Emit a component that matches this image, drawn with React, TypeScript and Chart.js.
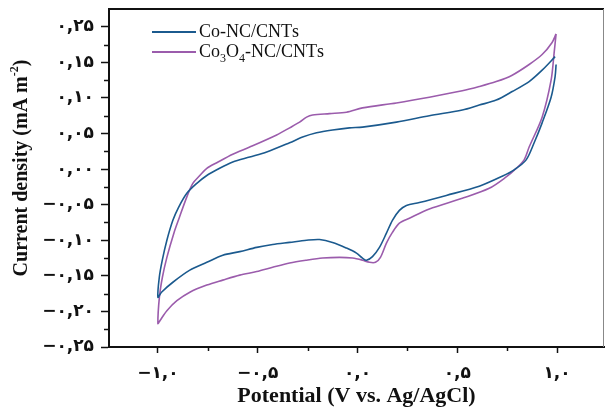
import React, { useEffect, useRef } from "react";
import { Chart, registerables } from "chart.js";

Chart.register(...registerables);

// ---- Data ----
const seriesNames = ["Co-NC/CNTs", "Co3O4-NC/CNTs"];
const seriesColors = ["#1b5a8e", "#9b5cac"];

const coPotential = [
  0.99, 0.925, 0.86, 0.775, 0.695, 0.61, 0.525, 0.36, 0.195, 0.025, -0.04, -0.125, -0.205, -0.275, -0.34,
  -0.455, -0.54, -0.625, -0.705, -0.755, -0.805, -0.855, -0.897, -0.925, -0.955, -0.978, -0.993, -1.0,
  -0.982, -0.925, -0.84, -0.755, -0.675, -0.59, -0.505, -0.425, -0.34, -0.255, -0.19, -0.125, -0.055,
  -0.005, 0.025, 0.045, 0.075, 0.11, 0.145, 0.175, 0.21, 0.245, 0.31, 0.445, 0.61, 0.725, 0.785, 0.845,
  0.885, 0.925, 0.97, 0.99, 0.995,
];
const coCurrent = [
  0.158, 0.139, 0.123, 0.109, 0.097, 0.09, 0.083, 0.075, 0.066, 0.059, 0.058, 0.055, 0.051, 0.045, 0.037,
  0.024, 0.017, 0.01, -0.001, -0.009, -0.02, -0.034, -0.054, -0.072, -0.1, -0.128, -0.152, -0.18,
  -0.173, -0.159, -0.142, -0.131, -0.121, -0.116, -0.11, -0.106, -0.103, -0.1, -0.099, -0.103, -0.111,
  -0.118, -0.125, -0.128, -0.123, -0.11, -0.09, -0.072, -0.058, -0.051, -0.047, -0.037, -0.024, -0.01,
  -0.001, 0.013, 0.037, 0.065, 0.101, 0.13, 0.147,
];

const co3o4Potential = [
  0.995, 0.975, 0.925, 0.86, 0.775, 0.695, 0.61, 0.525, 0.36, 0.195, 0.025, -0.055, -0.14, -0.225, -0.255,
  -0.29, -0.34, -0.405, -0.54, -0.625, -0.705, -0.755, -0.79, -0.825, -0.855, -0.8925, -0.92, -0.955,
  -0.9775, -0.9925, -1.0, -0.99, -0.955, -0.905, -0.84, -0.755, -0.675, -0.59, -0.505, -0.425, -0.34, -0.255,
  -0.175, -0.09, -0.025, 0.025, 0.06, 0.09, 0.115, 0.145, 0.175, 0.21, 0.26, 0.36, 0.525, 0.66, 0.745,
  0.795, 0.835, 0.86, 0.925, 0.97, 0.985, 0.995,
];
const co3o4Current = [
  0.19, 0.178, 0.161, 0.147, 0.132, 0.123, 0.116, 0.11, 0.101, 0.093, 0.086, 0.08, 0.078, 0.076, 0.073,
  0.066, 0.058, 0.048, 0.031, 0.021, 0.009, 0.001, -0.009, -0.02, -0.039, -0.068, -0.09, -0.124,
  -0.152, -0.18, -0.217, -0.213, -0.199, -0.185, -0.173, -0.163, -0.156, -0.149, -0.144, -0.138, -0.132,
  -0.128, -0.125, -0.124, -0.125, -0.128, -0.131, -0.131, -0.124, -0.104, -0.089, -0.076, -0.069, -0.056,
  -0.041, -0.027, -0.011, 0.001, 0.013, 0.031, 0.073, 0.125, 0.163, 0.19,
];

const xTickValues = [-1.0, -0.5, 0.0, 0.5, 1.0];
const xTickLabels = ["−۱,۰", "−۰,۵", "۰,۰", "۰,۵", "۱,۰"];
const yTickValues = [-0.25, -0.2, -0.15, -0.1, -0.05, 0.0, 0.05, 0.1, 0.15, 0.2];
const yTickLabels = ["−۰,۲۵", "−۰,۲۰", "−۰,۱۵", "−۰,۱۰", "−۰,۰۵", "۰,۰۰", "۰,۰۵", "۰,۱۰", "۰,۱۵", "۰,۲۵"];

const xTitle = "Potential (V vs. Ag/AgCl)";
const yTitleMain = "Current density (mA m";
const yTitleSup = "-2";
const yTitleEnd = ")";

const SERIF = "'Liberation Serif', 'Times New Roman', serif";
const TICKFONT = "'DejaVu Sans', sans-serif";

function toPoints(xs: number[], ys: number[]) {
  return xs.map((x, i) => ({ x, y: ys[i] }));
}

function drawRich(ctx: CanvasRenderingContext2D, text: string, x: number, y: number, size: number) {
  // digits directly after a letter are drawn as subscripts
  let cx = x;
  for (let i = 0; i < text.length; i++) {
    const ch = text[i];
    const isSub = /[0-9]/.test(ch) && i > 0 && /[A-Za-z]/.test(text[i - 1]);
    if (isSub) {
      ctx.font = `${Math.round(size * 0.65)}px ${SERIF}`;
      ctx.fillText(ch, cx, y + size * 0.25);
    } else {
      ctx.font = `${size}px ${SERIF}`;
      ctx.fillText(ch, cx, y);
    }
    cx += ctx.measureText(ch).width;
  }
}

const decorPlugin = {
  id: "decor",
  afterDraw(chart: any) {
    const { ctx, chartArea: a, scales } = chart;
    const xs = scales.x;
    const ys = scales.y;
    ctx.save();
    // top and right frame
    ctx.strokeStyle = "#111";
    ctx.lineWidth = 2;
    ctx.beginPath();
    ctx.moveTo(a.left, a.top);
    ctx.lineTo(a.right, a.top);
    ctx.stroke();
    ctx.strokeStyle = "#888";
    ctx.lineWidth = 1;
    ctx.beginPath();
    ctx.moveTo(a.right - 0.5, a.top);
    ctx.lineTo(a.right - 0.5, a.bottom);
    ctx.stroke();

    // minor ticks
    ctx.strokeStyle = "#111";
    ctx.lineWidth = 1.5;
    for (let i = 0; i < yTickValues.length - 1; i++) {
      const v = (yTickValues[i] + yTickValues[i + 1]) / 2;
      const py = Math.round(ys.getPixelForValue(v)) + 0.5;
      ctx.beginPath();
      ctx.moveTo(a.left - 5, py);
      ctx.lineTo(a.left, py);
      ctx.stroke();
    }
    for (let i = 0; i < xTickValues.length - 1; i++) {
      const v = (xTickValues[i] + xTickValues[i + 1]) / 2;
      const px = Math.round(xs.getPixelForValue(v)) + 0.5;
      ctx.beginPath();
      ctx.moveTo(px, a.bottom);
      ctx.lineTo(px, a.bottom + 4);
      ctx.stroke();
    }

    // legend
    const lx = a.left + 43;
    const ly0 = a.top + 23;
    seriesNames.forEach((name, i) => {
      const ly = ly0 + i * 20;
      ctx.strokeStyle = seriesColors[i];
      ctx.lineWidth = 2;
      ctx.beginPath();
      ctx.moveTo(lx, ly);
      ctx.lineTo(lx + 44, ly);
      ctx.stroke();
      ctx.fillStyle = "#111";
      ctx.textBaseline = "alphabetic";
      ctx.textAlign = "left";
      drawRich(ctx, name, lx + 47, ly + 5, 18);
    });

    // x title
    ctx.fillStyle = "#111";
    ctx.font = `bold 22px ${SERIF}`;
    ctx.textAlign = "center";
    ctx.textBaseline = "alphabetic";
    ctx.fillText(xTitle, (a.left + a.right) / 2, 402);

    // y title (rotated)
    ctx.translate(27, 168);
    ctx.rotate(-Math.PI / 2);
    const mainFont = `bold 20px ${SERIF}`;
    const supFont = `bold 12px ${SERIF}`;
    ctx.font = mainFont;
    const w1 = ctx.measureText(yTitleMain).width;
    ctx.font = supFont;
    const w2 = ctx.measureText(yTitleSup).width;
    ctx.font = mainFont;
    const w3 = ctx.measureText(yTitleEnd).width;
    let sx = -(w1 + w2 + w3) / 2;
    ctx.textAlign = "left";
    ctx.fillText(yTitleMain, sx, 0);
    sx += w1;
    ctx.font = supFont;
    ctx.fillText(yTitleSup, sx, -9);
    sx += w2;
    ctx.font = mainFont;
    ctx.fillText(yTitleEnd, sx, 0);
    ctx.restore();
  },
};

function zeroPad(s: any) {
  s.paddingTop = 0;
  s.paddingBottom = 0;
  s.paddingLeft = 0;
  s.paddingRight = 0;
}

export default function App() {
  const ref = useRef<HTMLCanvasElement>(null);
  useEffect(() => {
    document.body.style.margin = "0";
    const canvas = ref.current;
    if (!canvas) return;
    const common = {
      showLine: true,
      borderWidth: 1.6,
      pointRadius: 0,
      tension: 0.3,
      fill: false,
    };
    const chart = new Chart(canvas, {
      type: "scatter",
      data: {
        datasets: [
          {
            ...common,
            label: seriesNames[0],
            data: toPoints(coPotential, coCurrent),
            borderColor: seriesColors[0],
          },
          {
            ...common,
            label: seriesNames[1],
            data: toPoints(co3o4Potential, co3o4Current),
            borderColor: seriesColors[1],
          },
        ],
      },
      options: {
        responsive: false,
        devicePixelRatio: 1,
        animation: false,
        layout: { padding: { top: 9, right: 2, left: 0, bottom: 0 } },
        plugins: { legend: { display: false }, tooltip: { enabled: false } },
        scales: {
          x: {
            type: "linear",
            min: -1.245,
            max: 1.235,
            afterBuildTicks: (s: any) => {
              s.ticks = xTickValues.map((v) => ({ value: v }));
            },
            afterFit: (s: any) => {
              s.height = 60;
              zeroPad(s);
            },
            grid: { drawOnChartArea: false, tickLength: 6, tickWidth: 1.5, tickColor: "#111" },
            border: { display: true, color: "#111", width: 2 },
            ticks: {
              padding: 10,
              color: "#111",
              font: { family: TICKFONT, size: 17, weight: "bold" },
              callback: (v: any) => {
                const i = xTickValues.findIndex((t) => Math.abs(t - v) < 1e-6);
                return i >= 0 ? xTickLabels[i] : "";
              },
            },
          },
          y: {
            type: "linear",
            min: -0.25,
            max: 0.225,
            afterBuildTicks: (s: any) => {
              s.ticks = yTickValues.map((v) => ({ value: v }));
            },
            afterFit: (s: any) => {
              s.width = 109;
              zeroPad(s);
            },
            grid: { drawOnChartArea: false, tickLength: 8, tickWidth: 1.5, tickColor: "#111" },
            border: { display: true, color: "#111", width: 2 },
            ticks: {
              padding: 7,
              color: "#111",
              font: { family: TICKFONT, size: 17, weight: "bold" },
              callback: (v: any) => {
                const i = yTickValues.findIndex((t) => Math.abs(t - v) < 1e-6);
                return i >= 0 ? yTickLabels[i] : "";
              },
            },
          },
        },
      },
      plugins: [decorPlugin],
    } as any);
    return () => chart.destroy();
  }, []);
  return (
    <div style={{ width: 606, height: 407, background: "#fff" }}>
      <canvas ref={ref} width={606} height={407} style={{ display: "block", width: 606, height: 407 }} />
    </div>
  );
}
